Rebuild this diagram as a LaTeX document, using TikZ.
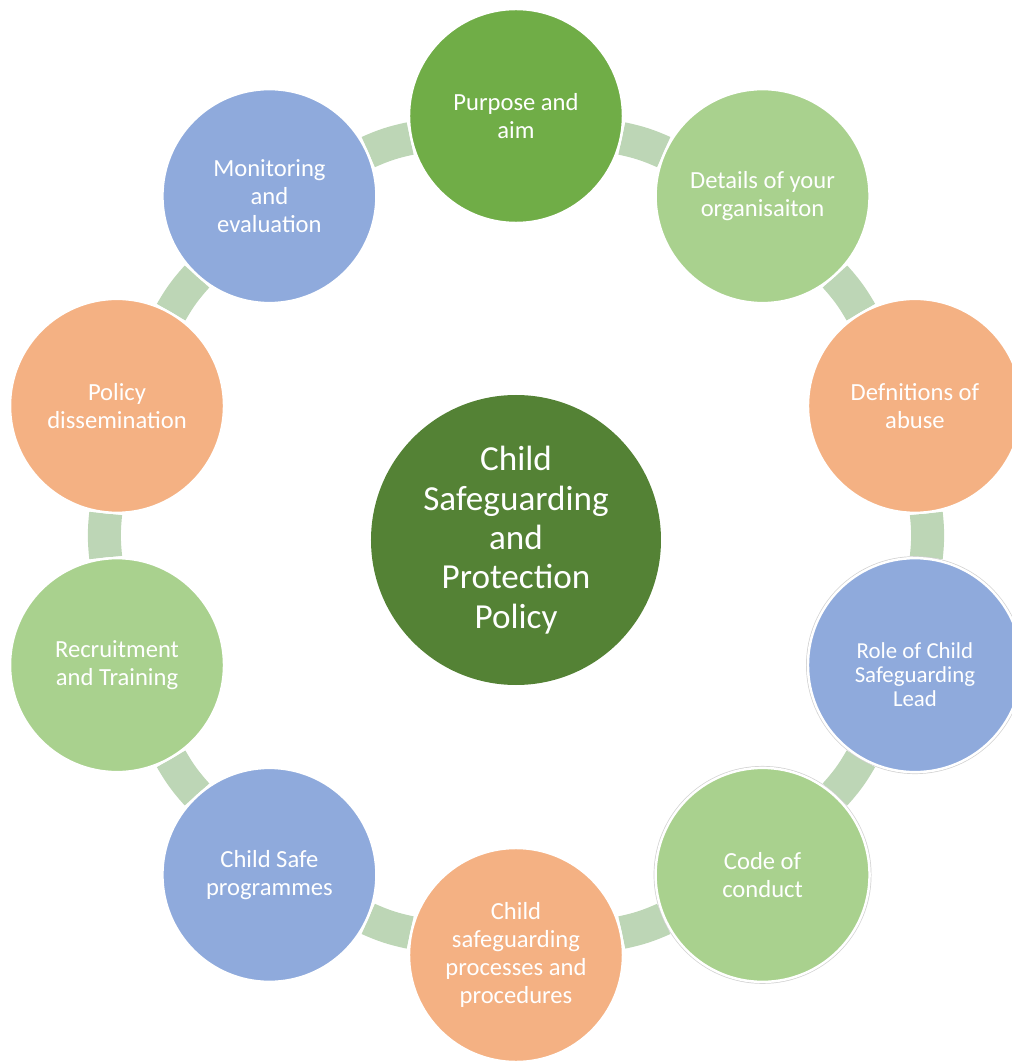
\documentclass[tikz,border=0pt]{standalone}
\usepackage{fontspec}
\setmainfont{Carlito}
\usetikzlibrary{backgrounds}

\definecolor{darkleaf}{HTML}{548235}
\definecolor{leaf}{HTML}{70AD47}
\definecolor{paleleaf}{HTML}{A9D18E}
\definecolor{peach}{HTML}{F4B183}
\definecolor{skyblue}{HTML}{8FAADC}
\definecolor{band}{HTML}{BDD6B6}

\tikzset{
  outer/.style={circle, draw=white, line width=1.4pt, minimum size=4.28cm, inner sep=0pt,
    align=center, text=white, font=\fontsize{14}{15.9}\selectfont},
  rimmed/.style={preaction={draw=black!18, line width=2.2pt}},
  hub/.style={circle, fill=darkleaf, minimum size=5.8cm, inner sep=0pt,
    align=center, text=white, font=\fontsize{20}{22.4}\selectfont},
  ring/.style={band, line width=0.66cm, bend left=6}
}

\begin{document}
\begin{tikzpicture}
\useasboundingbox (-10.32,-10.53) rectangle (9.92,10.71);
% Centre of the cycle
\node[hub] (policy) at (0,-0.09) {Child\\Safeguarding\\and\\Protection\\Policy};
% Steps round the cycle, clockwise from the top
\node[outer, fill=leaf] (purpose) at (90:8.39) {Purpose and\\aim};
\node[outer, fill=paleleaf] (details) at (54:8.39) {Details of your\\organisaiton};
\node[outer, fill=peach] (abuse) at (18:8.39) {Defnitions of\\abuse};
\node[outer, rimmed, fill=skyblue, font=\fontsize{13}{13.8}\selectfont] (lead) at (-18:8.39) {\\[5.8pt]Role of Child\\Safeguarding\\Lead};
\node[outer, rimmed, fill=paleleaf] (conduct) at (-54:8.39) {Code of\\conduct};
\node[outer, fill=peach] (procedures) at (-90:8.39) {Child\\safeguarding\\processes and\\procedures};
\node[outer, fill=skyblue] (programmes) at (-126:8.39) {Child Safe\\programmes};
\node[outer, fill=paleleaf] (training) at (-162:8.39) {Recruitment\\and Training};
\node[outer, fill=peach] (dissemination) at (162:8.39) {Policy\\dissemination};
\node[outer, fill=skyblue] (monitoring) at (126:8.39) {Monitoring\\and\\evaluation};
% Band joining the steps, behind the circles
\begin{pgfonlayer}{background}
\draw[ring] (purpose) to (details);
\draw[ring] (details) to (abuse);
\draw[ring] (abuse) to (lead);
\draw[ring] (lead) to (conduct);
\draw[ring] (conduct) to (procedures);
\draw[ring] (procedures) to (programmes);
\draw[ring] (programmes) to (training);
\draw[ring] (training) to (dissemination);
\draw[ring] (dissemination) to (monitoring);
\draw[ring] (monitoring) to (purpose);
\end{pgfonlayer}
\end{tikzpicture}
\end{document}
